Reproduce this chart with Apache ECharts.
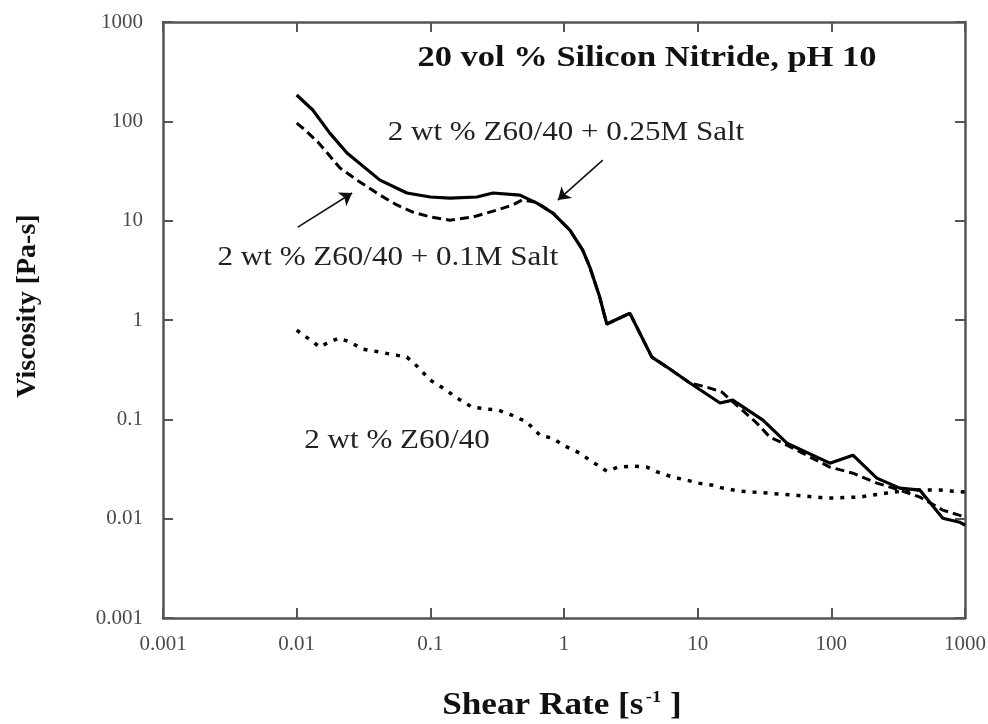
<!DOCTYPE html>
<html>
<head>
<meta charset="utf-8">
<script src="https://cdn.jsdelivr.net/npm/echarts@6/dist/echarts.min.js"></script>
<style>html,body{margin:0;padding:0;background:#fff}#c{width:988px;height:724px}</style>
</head>
<body>
<div id="c"></div>
<script>
// ---- data (shear rate [1/s], viscosity [Pa-s]) ----
const salt025X = [0.01,0.0132,0.0177,0.0238,0.042,0.0668,0.1,0.14,0.223,0.294,0.468,0.627,0.826,1.107,1.38,1.56,1.85,2.09,3.11,4.54,5.89,8.75,14.7,18.3,30.8,46.5,97.5,145,219,325,459,682,914,1000];
const salt025Y = [184,130,76,48,25.6,19.0,17.3,16.9,17.3,19.0,18.1,15.0,11.9,8.04,5.06,3.41,1.70,0.91,1.17,0.423,0.336,0.232,0.146,0.156,0.098,0.0575,0.0362,0.0436,0.0256,0.0203,0.0194,0.0101,0.0092,0.0086];

const salt01X = [0.01,0.0111,0.0144,0.0211,0.0283,0.042,0.0562,0.0741,0.1,0.14,0.208,0.315,0.415,0.484,0.627,0.826,1.107,1.38,1.56,1.85,2.09,3.11,4.54,5.89,8.75,11.7,15.2,27.7,34.7,46.5,97.5,145,219,325,459,682,914,1000];
const salt01Y = [96,85.7,62,33.9,25.6,18.1,14.4,12.2,10.9,10.1,10.9,12.8,14.4,16.1,15.3,11.9,8.04,5.06,3.41,1.70,0.91,1.17,0.423,0.336,0.232,0.211,0.188,0.0916,0.0662,0.055,0.033,0.0287,0.0228,0.0194,0.0165,0.0122,0.0108,0.0104];

const z6040X = [0.01,0.013,0.0149,0.0169,0.0207,0.0251,0.0313,0.042,0.0499,0.0668,0.0807,0.1,0.1285,0.158,0.205,0.265,0.321,0.408,0.527,0.66,0.812,1.02,1.31,1.56,2.09,2.53,3.27,4.17,5.04,6.53,8.3,10.2,13.0,15.4,20.7,25.9,33.0,41.2,51.5,92.5,163,260,386,647,1000];
const z6040Y = [0.79,0.614,0.533,0.585,0.658,0.598,0.509,0.475,0.454,0.423,0.336,0.248,0.201,0.164,0.133,0.127,0.124,0.110,0.0937,0.0693,0.0647,0.0537,0.0457,0.0388,0.0301,0.033,0.0338,0.033,0.0294,0.0262,0.0244,0.0228,0.0217,0.0203,0.0189,0.0185,0.0181,0.0177,0.0173,0.0161,0.0165,0.0181,0.0194,0.0194,0.0185];

const tickLabels = ['0.001','0.01','0.1','1','10','100','1000'];
const title = '20 vol % Silicon Nitride, pH 10';
const label025 = '2 wt % Z60/40 + 0.25M Salt';
const label01 = '2 wt % Z60/40 + 0.1M Salt';
const labelZ = '2 wt % Z60/40';
const xName = 'Shear Rate [s';
const xNameSup = '-1';
const yName = 'Viscosity [Pa-s]';
// arrows: [tail, tip] in data units
const arrow025 = [[1.95, 40.7], [0.90, 16.1]];
const arrow01 = [[0.0102, 8.6], [0.026, 19.0]];

const pair = (xs, ys) => xs.map((x, i) => [x, ys[i]]);
const serif = '"Liberation Serif","DejaVu Serif",serif';
const fmt = v => {
  const e = Math.round(Math.log10(v));
  return tickLabels[e + 3] !== undefined ? tickLabels[e + 3] : '';
};

const axisCommon = {
  type: 'log', logBase: 10, min: 0.001, max: 1000,
  splitLine: { show: false },
  minorTick: { show: false },
  axisLine: { show: true, lineStyle: { color: '#555', width: 2.5 } },
  axisTick: { show: true, inside: true, length: 10, lineStyle: { color: '#555', width: 2 } }
};

const chart = echarts.init(document.getElementById('c'));
chart.setOption({
  backgroundColor: '#fff',
  animation: false,
  grid: { left: 163, right: 23, top: 22, bottom: 106, containLabel: false, outerBoundsMode: 'none' },
  xAxis: [
    Object.assign({}, axisCommon, {
      position: 'bottom',
      axisLabel: { formatter: fmt, color: '#4a4a4a', fontFamily: serif, fontSize: 21, margin: 16 }
    }),
    Object.assign({}, axisCommon, { position: 'top', axisLabel: { show: false } })
  ],
  yAxis: [
    Object.assign({}, axisCommon, {
      position: 'left',
      axisLabel: { formatter: fmt, color: '#4a4a4a', fontFamily: serif, fontSize: 21, margin: 20 }
    }),
    Object.assign({}, axisCommon, { position: 'right', axisLabel: { show: false } })
  ],
  series: [
    {
      name: label025, type: 'line', data: pair(salt025X, salt025Y),
      showSymbol: false, lineStyle: { color: '#000', width: 3.2, type: 'solid' }, z: 4,
      markLine: {
        silent: true, symbol: ['none', 'arrow'], symbolSize: 12,
        lineStyle: { color: '#111', width: 1.6, type: 'solid' }, label: { show: false },
        emphasis: { disabled: true },
        data: [
          [{ coord: arrow025[0] }, { coord: arrow025[1] }],
          [{ coord: arrow01[0] }, { coord: arrow01[1] }]
        ]
      }
    },
    {
      name: label01, type: 'line', data: pair(salt01X, salt01Y),
      showSymbol: false, lineStyle: { color: '#000', width: 3, type: [9, 5] }, z: 3
    },
    {
      name: labelZ, type: 'line', data: pair(z6040X, z6040Y),
      showSymbol: false, lineStyle: { color: '#000', width: 3.5, type: [4, 7] }, z: 3
    }
  ],
  graphic: [
    { type: 'text', x: 647, y: 58, scaleX: 1.15, style: { text: title, align: 'center', verticalAlign: 'middle', font: 'bold 30px ' + serif, fill: '#111' } },
    { type: 'text', x: 566, y: 133, scaleX: 1.15, style: { text: label025, align: 'center', verticalAlign: 'middle', font: '27px ' + serif, fill: '#222' } },
    { type: 'text', x: 388, y: 258, scaleX: 1.15, style: { text: label01, align: 'center', verticalAlign: 'middle', font: '27px ' + serif, fill: '#222' } },
    { type: 'text', x: 397, y: 441, scaleX: 1.15, style: { text: labelZ, align: 'center', verticalAlign: 'middle', font: '27px ' + serif, fill: '#222' } },
    { type: 'text', x: 28, y: 306, rotation: Math.PI / 2, style: { text: yName, align: 'center', verticalAlign: 'middle', font: 'bold 28px ' + serif, fill: '#111' } },
    { type: 'text', x: 562, y: 706, scaleX: 1.1, style: {
        text: '{a|' + xName + '}{s|' + xNameSup + '}{a| ]}', align: 'center', verticalAlign: 'middle',
        rich: {
          a: { font: 'bold 32px ' + serif, fill: '#111' },
          s: { font: 'bold 17px ' + serif, fill: '#111', verticalAlign: 'top', padding: [0, 0, 16, 2] }
        } } }
  ]
});
</script>
</body>
</html>
